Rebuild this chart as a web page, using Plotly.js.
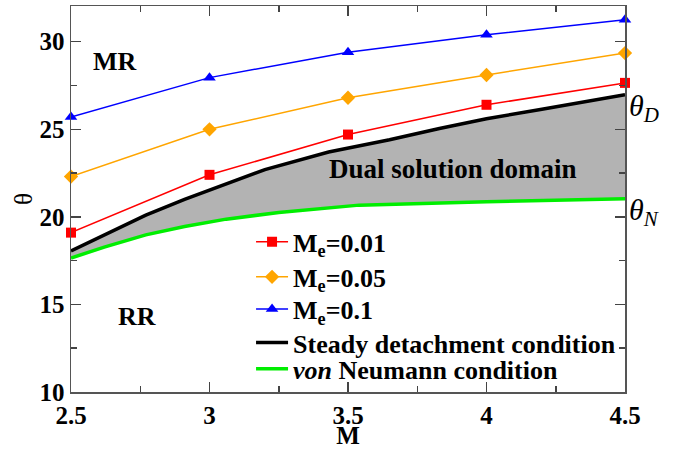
<!DOCTYPE html>
<html>
<head>
<meta charset="utf-8">
<script src="https://cdn.plot.ly/plotly-3.0.1.min.js"></script>
<style>html,body{margin:0;padding:0;background:#fff;}#chart{width:676px;height:449px;}</style>
</head>
<body>
<div id="chart"></div>
<script>
// Mach numbers for the M_e series
const machM = [2.5, 3, 3.5, 4, 4.5];
const thetaMe001 = [19.1, 22.4, 24.7, 26.4, 27.65];
const thetaMe005 = [22.3, 25.0, 26.8, 28.1, 29.35];
const thetaMe01 = [25.7, 27.95, 29.4, 30.4, 31.25];

// Steady detachment condition (theta_D)
const detachM = [2.5, 2.62, 2.77, 2.91, 3.06, 3.2, 3.43, 3.54, 3.65, 3.83, 4.0, 4.2, 4.37, 4.5];
const detachTheta = [18.05, 18.97, 20.1, 21.0, 21.9, 22.7, 23.7, 24.06, 24.4, 25.05, 25.6, 26.15, 26.6, 26.97];

// von Neumann condition (theta_N)
const neumannM = [2.5, 2.62, 2.77, 2.91, 3.06, 3.25, 3.54, 4.0, 4.5];
const neumannTheta = [17.65, 18.27, 18.97, 19.45, 19.87, 20.25, 20.67, 20.87, 21.03];

const serif = "Liberation Serif, Times New Roman, serif";

const traces = [
  // grey dual-solution band between the two conditions
  {x: neumannM, y: neumannTheta, mode: 'lines', line: {width: 0, color: 'rgba(0,0,0,0)'}, showlegend: false, hoverinfo: 'skip'},
  {x: detachM, y: detachTheta, mode: 'lines', line: {width: 0, color: 'rgba(0,0,0,0)'}, fill: 'tonexty',
   fillcolor: '#b3b3b3', showlegend: false, hoverinfo: 'skip'},
  {x: neumannM, y: neumannTheta, mode: 'lines', name: '<b><i>von</i> Neumann condition</b>',
   line: {color: '#00ee00', width: 3.5}, legend: 'legend5'},
  {x: detachM, y: detachTheta, mode: 'lines', name: '<b>Steady detachment condition</b>',
   line: {color: '#000000', width: 3.5}, legend: 'legend4'},
  {x: machM, y: thetaMe001, mode: 'lines+markers', name: '<b>M<sub>e</sub>=0.01</b>',
   line: {color: '#ff0000', width: 1.5}, marker: {symbol: 'square', size: 10, color: '#ff0000'}, legend: 'legend'},
  {x: machM, y: thetaMe005, mode: 'lines+markers', name: '<b>M<sub>e</sub>=0.05</b>',
   line: {color: '#ffa500', width: 1.5}, marker: {symbol: 'diamond', size: 11, color: '#ffa500'}, legend: 'legend2'},
  {x: machM, y: thetaMe01, mode: 'lines+markers', name: '<b>M<sub>e</sub>=0.1</b>',
   line: {color: '#0000ff', width: 1.5}, marker: {symbol: 'triangle-up', size: 11, color: '#0000ff'}, legend: 'legend3'}
];
traces.forEach(t => t.cliponaxis = false);

const ann = (x, y, text, size, xanchor) => ({xref: 'paper', yref: 'paper', x: x, y: y, text: text,
  showarrow: false, xanchor: xanchor || 'center', yanchor: 'middle', font: {family: serif, size: size, color: '#000'}});

const leg = (y) => ({x: 0.325, y: y, xanchor: 'left', yanchor: 'middle', bgcolor: 'rgba(0,0,0,0)',
  font: {family: serif, size: 26, color: '#000'}, itemwidth: 32});

const layout = {
  width: 676, height: 449,
  margin: {l: 71, r: 51, t: 6, b: 57},
  paper_bgcolor: '#ffffff', plot_bgcolor: '#ffffff',
  font: {family: serif, color: '#000'},
  showlegend: true,
  legend: leg(0.389), legend2: leg(0.298), legend3: leg(0.215), legend4: leg(0.128), legend5: leg(0.06),
  xaxis: {range: [2.5, 4.5], dtick: 0.5, tick0: 2.5, ticks: 'inside', ticklen: 10, tickwidth: 1.5, tickcolor: '#444',
          showline: true, linecolor: '#555', linewidth: 1.5, mirror: 'allticks', showgrid: false, zeroline: false,
          minor: {dtick: 0.25, ticks: 'inside', ticklen: 6, tickwidth: 1.5, tickcolor: '#444', showgrid: false},
          tickfont: {family: serif, size: 25, color: '#000', weight: 'bold'},
          title: {text: '<b>M</b>', font: {family: serif, size: 25, color: '#000'}, standoff: 0}},
  yaxis: {range: [10, 32.04], dtick: 5, tick0: 10, ticks: 'inside', ticklen: 10, tickwidth: 1.5, tickcolor: '#444',
          showline: true, linecolor: '#555', linewidth: 1.5, mirror: 'allticks', showgrid: false, zeroline: false,
          minor: {dtick: 2.5, ticks: 'inside', ticklen: 6, tickwidth: 1.5, tickcolor: '#444', showgrid: false},
          tickfont: {family: serif, size: 25, color: '#000', weight: 'bold'},
          title: {text: 'θ', font: {family: serif, size: 25, color: '#000'}, standoff: 0}},
  annotations: [
    ann(0.0803, 0.855, '<b>MR</b>', 26),
    ann(0.12, 0.195, '<b>RR</b>', 26),
    ann(0.69, 0.578, '<b>Dual solution domain</b>', 27),
    ann(1.003, 0.736, '<i>θ<sub>D</sub></i>', 30, 'left'),
    ann(1.003, 0.466, '<i>θ<sub>N</sub></i>', 30, 'left')
  ]
};

Plotly.newPlot('chart', traces, layout, {displayModeBar: false, staticPlot: true});
</script>
</body>
</html>
